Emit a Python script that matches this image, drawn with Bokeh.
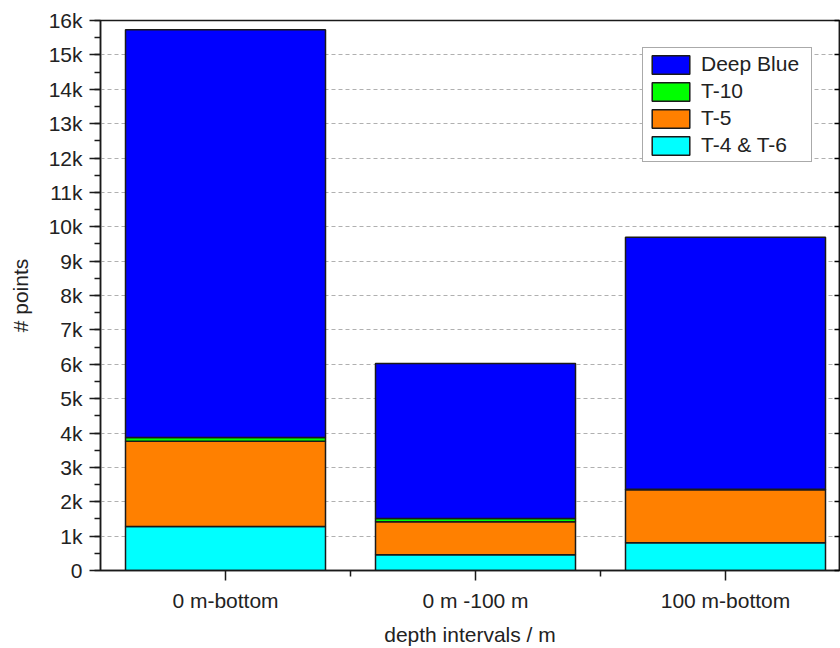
from bokeh.plotting import figure
from bokeh.models import (Range1d, FixedTicker, SingleIntervalTicker, NumeralTickFormatter,
                          LinearAxis, Legend, LegendItem, CustomJSTickFormatter, ColumnDataSource)
from bokeh.embed import file_html
from bokeh.resources import INLINE

# ---- data ----
categories = ["0 m-bottom", "0 m -100 m", "100 m-bottom"]
t4_t6 = [1280, 460, 810]
t5 = [2480, 960, 1540]
t10 = [110, 90, 15]
deep_blue = [11860, 4510, 7330]

series_names = ["T-4 & T-6", "T-5", "T-10", "Deep Blue"]
series_keys = ["t4t6", "t5", "t10", "deep"]
colors = ["#00FFFF", "#FF8000", "#00FF00", "#0000FF"]

xpos = list(range(1, len(categories) + 1))
src = ColumnDataSource(dict(x=xpos, t4t6=t4_t6, t5=t5, t10=t10, deep=deep_blue))

FONT = "Liberation Sans"
TXT = "#222222"
FS = "21px"

p = figure(width=840, height=648, output_backend="svg", toolbar_location=None,
           x_range=Range1d(0.5, 3.456), y_range=Range1d(0, 16000),
           min_border_left=100, min_border_right=1, min_border_top=20, min_border_bottom=78)

renderers = p.vbar_stack(series_keys, x="x", width=0.8, source=src, color=colors,
                         line_color="#1a1a1a", line_width=1.5)

# frame
p.outline_line_color = "#1a1a1a"
p.outline_line_width = 1.5
p.outline_line_alpha = 1.0

# grid
p.xgrid.visible = False
p.ygrid.ticker = SingleIntervalTicker(interval=1000)
p.ygrid.grid_line_color = "#b0b0b0"
p.ygrid.grid_line_dash = "4 3"
p.ygrid.grid_line_width = 1

# x axis
xa = p.xaxis[0]
xa.ticker = FixedTicker(ticks=xpos, minor_ticks=[1.5, 2.5])
xa.major_label_overrides = {i: c for i, c in zip(xpos, categories)}
xa.axis_label = "depth intervals / m"
xa.major_tick_out = 10
xa.major_tick_in = 0
xa.minor_tick_out = 6
xa.minor_tick_in = 0
xa.major_label_standoff = 8
xa.axis_label_standoff = 8

# y axis
ya = p.yaxis[0]
ya.ticker = SingleIntervalTicker(interval=1000, num_minor_ticks=2)
ya.formatter = NumeralTickFormatter(format="0a")
ya.axis_label = "# points"
ya.major_tick_out = 11
ya.major_tick_in = 0
ya.minor_tick_out = 6
ya.minor_tick_in = 0
ya.major_label_standoff = 7
ya.axis_label_standoff = 14

for ax in (xa, ya):
    ax.axis_line_width = 1.5
    ax.axis_line_color = "#1a1a1a"
    ax.major_tick_line_width = 1.5
    ax.minor_tick_line_width = 1.5
    ax.major_tick_line_color = "#1a1a1a"
    ax.minor_tick_line_color = "#1a1a1a"
    ax.major_label_text_font = FONT
    ax.major_label_text_font_size = FS
    ax.major_label_text_color = TXT
    ax.axis_label_text_font = FONT
    ax.axis_label_text_font_size = FS
    ax.axis_label_text_font_style = "normal"
    ax.axis_label_text_color = TXT

# right axis: inward ticks only
ra = LinearAxis(ticker=SingleIntervalTicker(interval=1000, num_minor_ticks=0),
                formatter=CustomJSTickFormatter(code="return ''"))
ra.major_tick_in = 5
ra.major_tick_out = 0
ra.minor_tick_in = 0
ra.minor_tick_out = 0
ra.major_label_text_font_size = "0px"
ra.major_label_standoff = 0
ra.axis_line_width = 1.5
ra.major_tick_line_width = 1.5
ra.axis_line_color = "#1a1a1a"
p.add_layout(ra, "right")

# legend (top to bottom: reversed stack order)
items = [LegendItem(label=n, renderers=[r]) for n, r in zip(series_names, renderers)][::-1]
leg = Legend(items=items, location="top_right")
leg.margin = 27
leg.padding = 4
leg.spacing = 3
leg.glyph_width = 47
leg.glyph_height = 23
leg.label_standoff = 7
leg.label_width = 106
leg.label_text_font = FONT
leg.label_text_font_size = FS
leg.label_text_color = TXT
leg.label_height = 23
leg.border_line_color = "#555555"
leg.border_line_width = 1
leg.background_fill_alpha = 1.0
p.add_layout(leg, "center")

open("out.html", "w").write(file_html(p, INLINE))
